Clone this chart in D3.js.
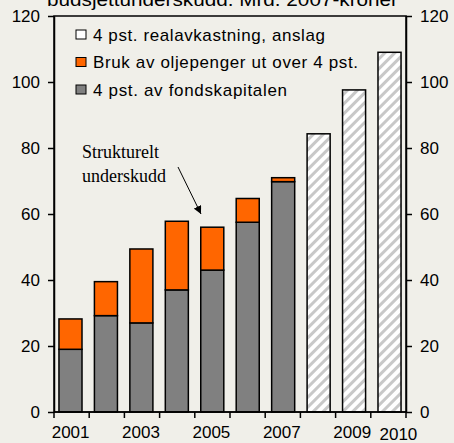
<!DOCTYPE html>
<html><head><meta charset="utf-8">
<script src="https://cdn.jsdelivr.net/npm/d3@7"></script>
<style>body{margin:0;background:#f0efe9;} svg{display:block;}</style>
</head><body>
<svg id="c" width="454" height="443"></svg>
<script>
const years = ["2001","2002","2003","2004","2005","2006","2007","2008","2009","2010"];
const fondskapital = [19, 29.2, 27, 37, 43, 57.5, 69.8, null, null, null];
const brukUtOver = [9.2, 10.3, 22.4, 20.8, 13, 7.2, 1.2, null, null, null];
const anslag = [null, null, null, null, null, null, null, 84.3, 97.6, 109];
const yTicks = [0, 20, 40, 60, 80, 100, 120];
const xLabels = ["2001","2003","2005","2007","2009","2010"];
const legendLabels = ["4 pst. realavkastning, anslag","Bruk av oljepenger ut over 4 pst.","4 pst. av fondskapitalen"];
const titleText = "budsjettunderskudd. Mrd. 2007-kroner";
const annotation = ["Strukturelt","underskudd"];

const svg = d3.select("#c");
const L = 54, R = 406, T = 16, B = 412;
const x = d3.scaleBand().domain(years).range([L, R]).paddingInner(0.35).paddingOuter(0.14);
const xb = d3.scaleBand().domain(years).range([L, R]);
const y = d3.scaleLinear().domain([0, 120]).range([B, T]);
const font = "Liberation Sans, Arial, sans-serif";

const defs = svg.append("defs");
const pat = defs.append("pattern").attr("id","hatch").attr("patternUnits","userSpaceOnUse")
  .attr("width",7).attr("height",7).attr("patternTransform","rotate(45)");
pat.append("rect").attr("width",7).attr("height",7).attr("fill","#ffffff");
pat.append("rect").attr("width",3).attr("height",7).attr("fill","#c8c8c8");

// title (clipped at top, as in the reference)
svg.append("text").attr("x", 47).attr("y", 6)
  .attr("textLength", 351).attr("lengthAdjust","spacingAndGlyphs")
  .attr("font-family",font).attr("font-size",18).attr("fill","#000")
  .text(titleText);

// bars
const g = svg.append("g");
years.forEach((yr,i)=>{
  if (fondskapital[i] != null) {
    g.append("rect").attr("x", x(yr)).attr("width", x.bandwidth())
      .attr("y", y(fondskapital[i])).attr("height", y(0)-y(fondskapital[i]))
      .attr("fill","#808080").attr("stroke","#000").attr("stroke-width",1.5);
    const top = fondskapital[i] + brukUtOver[i];
    g.append("rect").attr("x", x(yr)).attr("width", x.bandwidth())
      .attr("y", y(top)).attr("height", y(fondskapital[i])-y(top))
      .attr("fill","#ff6600").attr("stroke","#000").attr("stroke-width",1.5);
  }
  if (anslag[i] != null) {
    g.append("rect").attr("x", x(yr)).attr("width", x.bandwidth())
      .attr("y", y(anslag[i])).attr("height", y(0)-y(anslag[i]))
      .attr("fill","url(#hatch)").attr("stroke","#000").attr("stroke-width",1.5);
  }
});

// frame
svg.append("rect").attr("x",L).attr("y",T).attr("width",R-L).attr("height",B-T)
  .attr("fill","none").attr("stroke","#000").attr("stroke-width",1.5);

// y axes
const la = svg.append("g").attr("transform",`translate(${L},0)`)
  .call(d3.axisLeft(y).tickValues(yTicks).tickSize(6).tickPadding(8).tickSizeOuter(0));
const ra = svg.append("g").attr("transform",`translate(${R},0)`)
  .call(d3.axisRight(y).tickValues(yTicks).tickSize(6).tickPadding(8).tickSizeOuter(0));
[la, ra].forEach(a=>{
  a.select(".domain").attr("stroke","#000").attr("stroke-width",1.5);
  a.selectAll(".tick line").attr("stroke","#000").attr("stroke-width",1.5);
  a.selectAll(".tick text").attr("font-family",font).attr("font-size",17).attr("fill","#000");
});

// x axis ticks at category boundaries
const bounds = years.map(yr=>xb(yr)).concat([R]);
svg.append("g").selectAll("line").data(bounds).join("line")
  .attr("x1",d=>d).attr("x2",d=>d).attr("y1",B).attr("y2",B+6)
  .attr("stroke","#000").attr("stroke-width",1.5);
svg.append("line").attr("x1",L).attr("x2",R).attr("y1",B).attr("y2",B).attr("stroke","#000").attr("stroke-width",1.5);
svg.append("g").selectAll("text").data(xLabels).join("text")
  .attr("x", d=> xb(d)+xb.bandwidth()/2 + (d==="2010"?10:-1))
  .attr("y", d=> d==="2010" ? 440 : 438)
  .attr("text-anchor","middle").attr("font-family",font).attr("font-size",17).attr("fill","#000")
  .text(d=>d);

// legend
const legFill = ["#ffffff","#ff6600","#808080"];
const legW = [232, 265, 194];
const lg = svg.append("g");
legendLabels.forEach((t,i)=>{
  const cy = 34.5 + i*27.5;
  lg.append("rect").attr("x",76).attr("y",cy-4.5).attr("width",10).attr("height",9)
    .attr("fill", legFill[i]).attr("stroke","#000").attr("stroke-width",1);
  lg.append("text").attr("x",93).attr("y",cy+6).attr("font-family",font).attr("font-size",17)
    .attr("textLength", legW[i]).attr("lengthAdjust","spacing")
    .attr("fill","#000").text(t);
});

// annotation
annotation.forEach((t,i)=>{
  svg.append("text").attr("x",82).attr("y",158+i*24).attr("font-family","Liberation Serif, Times New Roman, serif")
    .attr("font-size",18).attr("fill","#000").text(t);
});
defs.append("marker").attr("id","arr").attr("viewBox","0 0 10 10").attr("refX",10).attr("refY",5)
  .attr("markerWidth",8).attr("markerHeight",8).attr("orient","auto")
  .append("path").attr("d","M0,0 L10,5 L0,10 z").attr("fill","#000");
svg.append("line").attr("x1",178).attr("y1",167).attr("x2",201).attr("y2",214)
  .attr("stroke","#000").attr("stroke-width",1).attr("marker-end","url(#arr)");
</script>
</body></html>
